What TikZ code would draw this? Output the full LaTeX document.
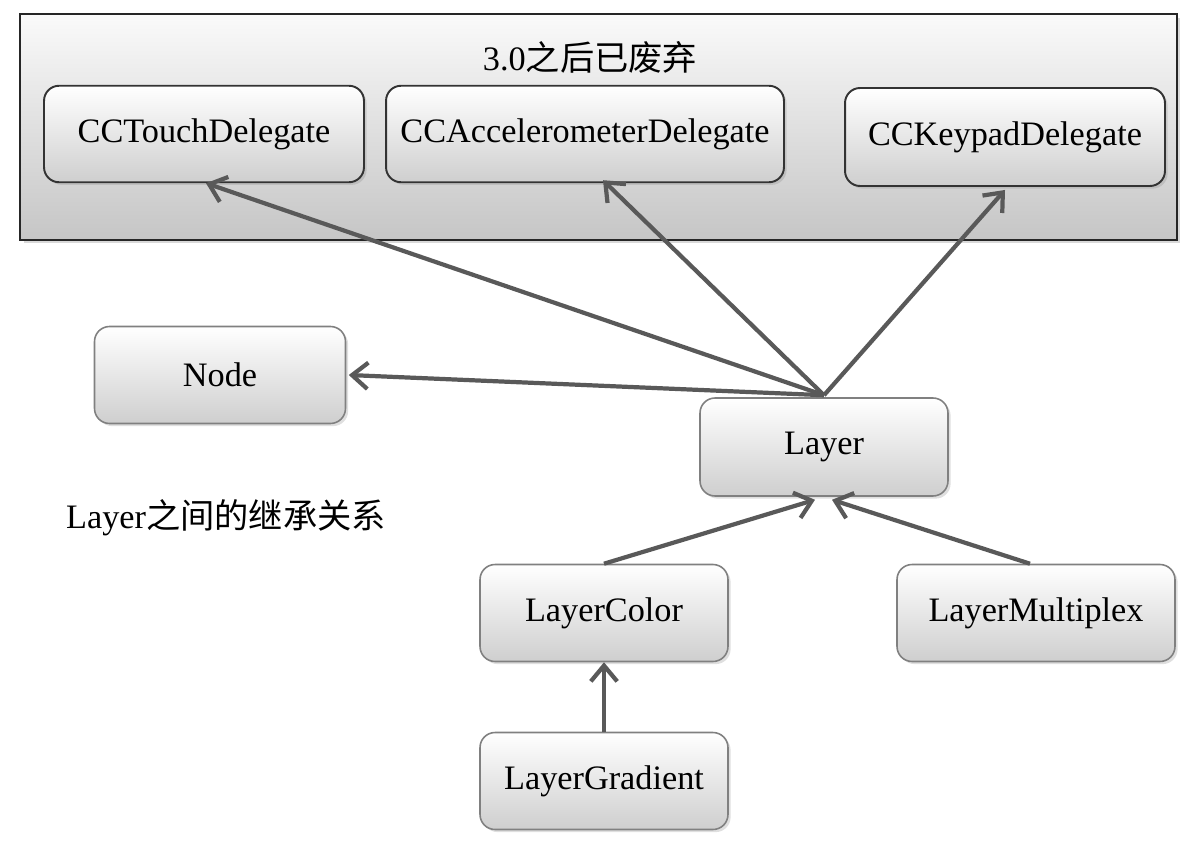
\documentclass[tikz,border=0pt]{standalone}
\usepackage{fontspec}
\setmainfont{Liberation Serif}
\newfontfamily\cjk{Noto Sans CJK SC}
\usetikzlibrary{arrows.meta,shadows}
\begin{document}
\begin{tikzpicture}[x=0.02cm,y=-0.02cm,
  txt/.style={font=\fontsize{19.5}{23}\selectfont},
  cls/.style={txt,rounded corners=0.3cm,inner sep=0pt,top color=white,bottom color=gray!38,
     draw=black!80,line width=1.1pt,minimum height=1.93cm,
     drop shadow={opacity=0.25,shadow xshift=1.5pt,shadow yshift=-1.5pt}},
  lcls/.style={cls,draw=black!50,line width=0.9pt},
  frame/.style={inner sep=0pt,top color=gray!4,bottom color=gray!45,draw=black!85,line width=1.2pt,
     drop shadow={opacity=0.3,shadow xshift=2pt,shadow yshift=-2pt}},
  inh/.style={draw=black!65,line width=2.4pt,-{Straight Barb[length=9pt,width=15pt,line width=2.4pt]}}
]
\useasboundingbox (0,0) rectangle (1200,845);
\node[frame,minimum width=23.14cm,minimum height=4.52cm] (box) at (598.5,127) {};
\node[txt] (title) at (590,57) {3.0{\cjk 之后已废弃}};
\node[cls,minimum width=6.4cm] (CT) at (204,134) {CCTouchDelegate};
\node[cls,minimum width=7.96cm] (CA) at (585,134) {CCAccelerometerDelegate};
\node[cls,minimum width=6.4cm,minimum height=1.96cm] (CK) at (1005,137) {CCKeypadDelegate};
\node[lcls,minimum width=5.02cm,minimum height=1.94cm] (N) at (220,375) {Node};
\node[lcls,minimum width=4.96cm,minimum height=1.96cm] (L) at (824,447) {Layer};
\node[txt] (cap) at (226,518) {Layer{\cjk 之间的继承关系}};
\node[lcls,minimum width=4.96cm,minimum height=1.94cm] (LC) at (604,613) {LayerColor};
\node[lcls,minimum width=5.56cm,minimum height=1.94cm] (LM) at (1036,613) {LayerMultiplex};
\node[lcls,minimum width=4.96cm,minimum height=1.94cm] (LG) at (604,781) {LayerGradient};
\coordinate (top) at ([yshift=0.04cm]L.north);
\coordinate (caTip) at ([xshift=0.36cm,yshift=0.06cm]CA.south);
\coordinate (ctTip) at ([xshift=0.04cm]CT.south);
\coordinate (ckTip) at ([yshift=-0.06cm]CK.south);
\coordinate (lLeft) at ([xshift=-0.18cm,yshift=-0.06cm]L.south);
\coordinate (lRight) at ([xshift=0.16cm,yshift=-0.06cm]L.south);
\draw[inh] (top) -- (ctTip);
\draw[inh] (top) -- (caTip);
\draw[inh] (top) -- (ckTip);
\draw[inh] (top) -- ([xshift=0.05cm]N.east);
\draw[inh] (LC.north) -- (lLeft);
\draw[inh] ([xshift=-0.12cm]LM.north) -- (lRight);
\draw[inh] (LG.north) -- (LC.south);
\end{tikzpicture}
\end{document}
